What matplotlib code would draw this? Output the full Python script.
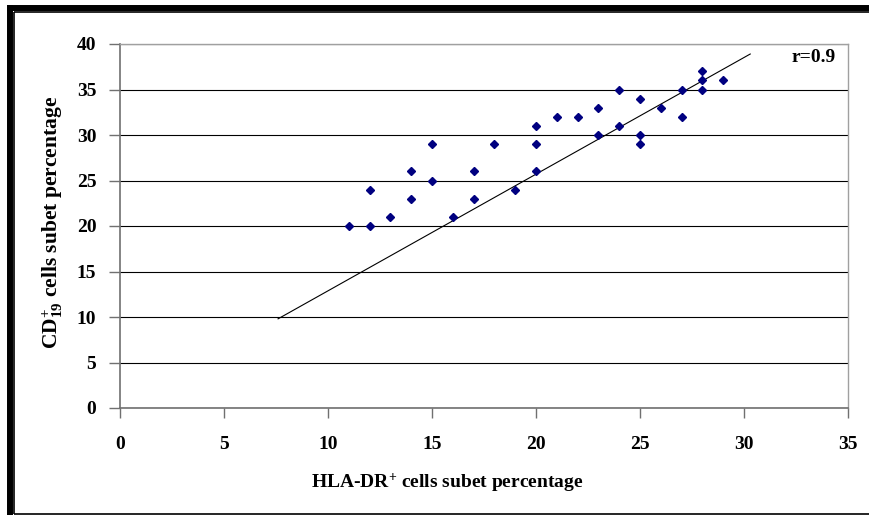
import matplotlib
matplotlib.use('Agg')
import matplotlib.pyplot as plt
from matplotlib.lines import Line2D

plt.rcParams['font.family'] = ['Liberation Serif', 'DejaVu Serif']
plt.rcParams['font.weight'] = 'bold'
plt.rcParams['mathtext.fontset'] = 'custom'
plt.rcParams['mathtext.rm'] = 'Liberation Serif:bold'
plt.rcParams['mathtext.bf'] = 'Liberation Serif:bold'
plt.rcParams['mathtext.it'] = 'Liberation Serif:bold'

# HLA-DR+ vs CD19+ percentages
hla_dr = [11, 12, 12, 13, 14, 14, 15, 15, 16, 17, 17, 18, 19, 20, 20, 20,
          21, 22, 23, 23, 24, 24, 25, 25, 25, 26, 27, 27, 28, 28, 28, 29]
cd19 = [20, 20, 24, 21, 23, 26, 25, 29, 21, 23, 26, 29, 24, 26, 29, 31,
        32, 32, 30, 33, 31, 35, 29, 30, 34, 33, 32, 35, 35, 36, 37, 36]

# fitted line end points
trend_x = [7.6, 30.3]
trend_y = [9.8, 38.9]
r_value = 0.9

W, H = 869, 515
fig = plt.figure(figsize=(W / 100, H / 100), dpi=100)
ax = fig.add_axes([120 / W, 1 - 408 / H, (848 - 120) / W, (408 - 44) / H])

ax.plot(trend_x, trend_y, color='black', lw=0.8, zorder=2)
ax.plot(hla_dr, cd19, linestyle='none', marker='D', ms=4.3, color='#000080', zorder=3)

ax.set_xlim(0, 35)
ax.set_ylim(0, 40)
ax.set_xticks(range(0, 36, 5))
ax.set_yticks(range(0, 41, 5))
ax.yaxis.grid(True, color='black', lw=0.8)
ax.set_axisbelow(True)

for s in ['left', 'bottom']:
    ax.spines[s].set_color('#707070')
    ax.spines[s].set_linewidth(1.2)
for s in ['top', 'right']:
    ax.spines[s].set_color('#a0a0a0')
    ax.spines[s].set_linewidth(1.0)

ax.tick_params(axis='y', direction='out', length=8, width=1, color='#707070',
               pad=9, labelsize=14)
ax.tick_params(axis='x', direction='out', length=7, width=1, color='#707070',
               pad=13, labelsize=14)
for lab in ax.get_xticklabels() + ax.get_yticklabels():
    lab.set_fontweight('bold')

ax.text(34.4, 38.5, 'r=%.1f' % r_value, ha='right', va='center',
        fontsize=14, fontweight='bold')

fig.text(447 / W, 1 - 483 / H, r'HLA-DR$^{+}$ cells subet percentage',
         ha='center', va='center', fontsize=14, fontweight='bold')
fig.text(53 / W, 1 - 222 / H, r'CD$_{19}^{+}$ cells subet percentage',
         ha='center', va='center', rotation=90, fontsize=15.5, fontweight='bold')

# double frame around the figure (cut at right and bottom)
fig.add_artist(Line2D([9.5 / W, 9.5 / W], [0, 1 - 5 / H], color='black', lw=4.3,
                      transform=fig.transFigure, solid_capstyle='butt'))
fig.add_artist(Line2D([7 / W, 1], [1 - 7.5 / H, 1 - 7.5 / H], color='black', lw=4.3,
                      transform=fig.transFigure, solid_capstyle='butt'))
fig.add_artist(Line2D([14 / W, 14 / W], [1 / H, 1 - 12 / H], color='black', lw=1.2,
                      transform=fig.transFigure, solid_capstyle='butt'))
fig.add_artist(Line2D([14 / W, 1], [1 - 12 / H, 1 - 12 / H], color='black', lw=1.2,
                      transform=fig.transFigure, solid_capstyle='butt'))
fig.add_artist(Line2D([14 / W, 1], [1.5 / H, 1.5 / H], color='black', lw=1.2,
                      transform=fig.transFigure, solid_capstyle='butt'))

fig.savefig('out.png', dpi=100)
